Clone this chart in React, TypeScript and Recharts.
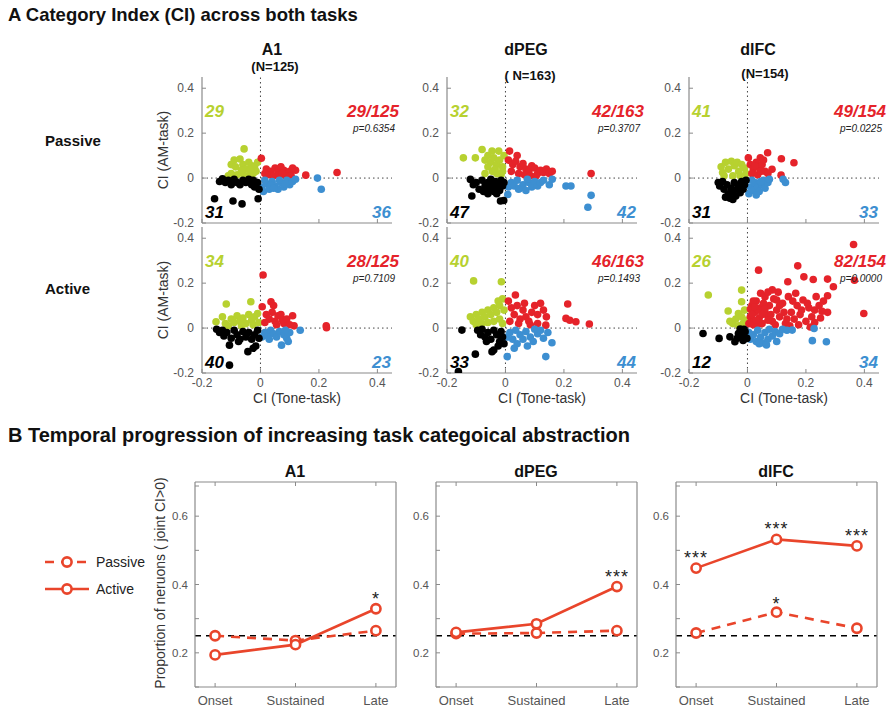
import React from 'react';
import {
  ScatterChart,
  Scatter,
  LineChart,
  Line,
  XAxis,
  YAxis,
  ReferenceLine,
  LabelList,
} from 'recharts';

// ---------- Panel A: CI scatter data, [tone-task CI, AM-task CI] ----------
const a1PassiveGreen = [[-0.056,0.13],[-0.09,0.08],[-0.07,0.085],[-0.1,0.06],[-0.085,0.05],[-0.06,0.06],[-0.05,0.04],[-0.04,0.07],[-0.03,0.055],[-0.02,0.05],[-0.015,0.03],[-0.1,0.02],[-0.08,0.015],[-0.06,0.02],[-0.04,0.01],[-0.025,0.02],[-0.01,0.07],[-0.065,0.035],[-0.11,0.01],[-0.035,0.035]];
const a1PassiveRed = [[0.003,0.088],[0.02,0.04],[0.035,0.03],[0.05,0.045],[0.06,0.03],[0.07,0.05],[0.08,0.035],[0.09,0.02],[0.1,0.03],[0.12,0.035],[0.03,0.015],[0.045,0.01],[0.065,0.015],[0.085,0.01],[0.105,0.01],[0.015,0.02],[0.155,0.013],[0.262,0.025],[0.11,0.045],[0.075,0.02]];
const a1PassiveBlue = [[0.005,-0.04],[0.01,-0.06],[0.02,-0.025],[0.03,-0.05],[0.04,-0.015],[0.05,-0.035],[0.06,-0.05],[0.07,-0.02],[0.08,-0.04],[0.09,-0.01],[0.1,-0.03],[0.11,-0.015],[0.12,-0.005],[0.035,-0.03],[0.065,-0.01],[0.085,-0.025],[0.195,0.0],[0.208,-0.05],[0.015,-0.01],[0.045,-0.045]];
const a1PassiveBlack = [[-0.13,-0.003],[-0.12,-0.02],[-0.11,-0.01],[-0.1,-0.03],[-0.09,-0.005],[-0.08,-0.02],[-0.07,-0.03],[-0.06,-0.01],[-0.05,-0.02],[-0.04,-0.005],[-0.03,-0.03],[-0.02,-0.04],[-0.01,-0.02],[-0.025,-0.01],[-0.157,-0.092],[-0.094,-0.102],[-0.063,-0.115],[-0.008,-0.092],[-0.14,-0.015],[-0.005,-0.05]];

const dpegPassiveGreen = [[-0.144,0.09],[-0.103,0.09],[-0.08,0.127],[-0.046,0.12],[-0.023,0.12],[-0.07,0.08],[-0.06,0.1],[-0.05,0.07],[-0.04,0.09],[-0.03,0.06],[-0.02,0.08],[-0.01,0.05],[-0.06,0.05],[-0.045,0.03],[-0.03,0.02],[-0.015,0.015],[-0.005,0.1],[-0.035,0.04],[-0.07,0.02],[-0.01,0.03]];
const dpegPassiveRed = [[0.014,0.12],[0.04,0.1],[0.01,0.08],[0.025,0.06],[0.035,0.075],[0.05,0.05],[0.06,0.065],[0.07,0.04],[0.08,0.03],[0.09,0.055],[0.1,0.045],[0.11,0.02],[0.12,0.035],[0.13,0.025],[0.14,0.04],[0.15,0.02],[0.16,0.03],[0.045,0.02],[0.065,0.015],[0.02,0.03],[0.293,0.02],[0.085,0.01],[0.105,0.01]];
const dpegPassiveBlue = [[0.008,-0.073],[0.01,-0.04],[0.02,-0.02],[0.03,-0.035],[0.04,-0.01],[0.05,-0.045],[0.06,-0.03],[0.07,-0.055],[0.08,-0.02],[0.09,-0.04],[0.1,-0.015],[0.11,-0.035],[0.12,-0.02],[0.13,-0.01],[0.15,-0.03],[0.16,-0.005],[0.207,-0.035],[0.224,-0.035],[0.293,-0.077],[0.282,-0.13],[0.045,-0.05],[0.075,-0.005]];
const dpegPassiveBlack = [[-0.12,-0.006],[-0.115,-0.08],[-0.11,-0.03],[-0.1,-0.02],[-0.09,-0.05],[-0.08,-0.01],[-0.075,-0.06],[-0.07,-0.035],[-0.06,-0.02],[-0.055,-0.05],[-0.05,-0.005],[-0.045,-0.03],[-0.04,-0.06],[-0.035,-0.015],[-0.03,-0.04],[-0.025,-0.02],[-0.02,-0.055],[-0.015,-0.01],[-0.01,-0.035],[-0.005,-0.02],[-0.017,-0.102],[-0.006,-0.1],[-0.06,-0.07],[-0.03,-0.07]];

const dlfcPassiveGreen = [[-0.09,0.05],[-0.085,0.025],[-0.075,0.07],[-0.065,0.04],[-0.055,0.075],[-0.045,0.055],[-0.035,0.07],[-0.03,0.03],[-0.02,0.06],[-0.01,0.045],[-0.005,0.02],[-0.05,0.01],[-0.08,0.01],[-0.025,0.01]];
const dlfcPassiveRed = [[0.003,0.09],[0.044,0.09],[0.069,0.113],[0.116,0.086],[0.159,0.068],[0.115,0.013],[0.084,0.039],[0.01,0.06],[0.02,0.04],[0.03,0.07],[0.04,0.05],[0.05,0.06],[0.06,0.03],[0.015,0.02],[0.035,0.015],[0.055,0.08],[0.025,0.055],[0.07,0.02],[0.045,0.03]];
const dlfcPassiveBlue = [[0.005,-0.07],[0.01,-0.04],[0.02,-0.055],[0.025,-0.02],[0.035,-0.04],[0.04,-0.06],[0.05,-0.03],[0.055,-0.01],[0.06,-0.045],[0.07,-0.02],[0.075,-0.005],[0.13,-0.02],[0.122,-0.005],[0.015,-0.01],[0.045,-0.015],[0.03,-0.075]];
const dlfcPassiveBlack = [[-0.1,-0.02],[-0.095,-0.035],[-0.085,-0.015],[-0.08,-0.05],[-0.07,-0.03],[-0.065,-0.07],[-0.06,-0.09],[-0.055,-0.045],[-0.05,-0.06],[-0.045,-0.02],[-0.04,-0.08],[-0.035,-0.05],[-0.03,-0.035],[-0.025,-0.065],[-0.02,-0.015],[-0.015,-0.05],[-0.01,-0.03],[-0.005,-0.01],[-0.075,-0.085],[-0.05,-0.095]];

const a1ActiveGreen = [[-0.117,0.107],[-0.033,0.117],[-0.152,0.028],[-0.13,0.05],[-0.12,0.02],[-0.1,0.04],[-0.09,0.025],[-0.08,0.055],[-0.07,0.03],[-0.06,0.045],[-0.05,0.02],[-0.04,0.06],[-0.03,0.035],[-0.02,0.05],[-0.01,0.065],[-0.005,0.025],[-0.11,0.01],[-0.065,0.01],[-0.025,0.015]];
const a1ActiveRed = [[0.009,0.236],[0.006,0.095],[0.036,0.117],[0.045,0.1],[0.02,0.06],[0.03,0.04],[0.04,0.07],[0.05,0.03],[0.06,0.055],[0.07,0.06],[0.075,0.035],[0.08,0.02],[0.09,0.04],[0.11,0.055],[0.115,0.01],[0.015,0.025],[0.225,0.01],[0.226,0.002],[0.055,0.015],[0.1,0.015]];
const a1ActiveBlue = [[0.005,-0.04],[0.015,-0.02],[0.025,-0.035],[0.035,-0.01],[0.045,-0.025],[0.055,-0.04],[0.065,-0.015],[0.072,-0.076],[0.08,-0.03],[0.09,-0.045],[0.095,-0.06],[0.1,-0.02],[0.136,-0.01],[0.03,-0.05],[0.085,-0.01]];
const a1ActiveBlack = [[-0.15,-0.005],[-0.14,-0.02],[-0.13,-0.01],[-0.125,-0.035],[-0.115,-0.02],[-0.106,-0.076],[-0.106,-0.165],[-0.1,-0.045],[-0.09,-0.01],[-0.08,-0.03],[-0.07,-0.05],[-0.06,-0.015],[-0.05,-0.04],[-0.043,-0.105],[-0.04,-0.02],[-0.03,-0.05],[-0.025,-0.09],[-0.02,-0.03],[-0.016,-0.08],[-0.01,-0.01],[-0.005,-0.045],[-0.075,-0.06]];

const dpegActiveGreen = [[-0.109,0.21],[-0.014,0.206],[-0.12,0.05],[-0.11,0.03],[-0.1,0.06],[-0.09,0.04],[-0.08,0.07],[-0.07,0.05],[-0.06,0.08],[-0.05,0.06],[-0.04,0.09],[-0.03,0.07],[-0.02,0.1],[-0.01,0.13],[-0.005,0.08],[-0.1,0.015],[-0.08,0.02],[-0.06,0.025],[-0.04,0.03],[-0.02,0.04],[-0.01,0.02],[-0.025,0.12]];
const dpegActiveRed = [[0.034,0.147],[0.01,0.12],[0.02,0.09],[0.03,0.06],[0.04,0.1],[0.05,0.04],[0.06,0.08],[0.07,0.05],[0.08,0.03],[0.09,0.07],[0.1,0.1],[0.11,0.06],[0.12,0.11],[0.13,0.08],[0.14,0.05],[0.015,0.03],[0.045,0.02],[0.085,0.015],[0.138,0.013],[0.213,0.107],[0.207,0.043],[0.22,0.035],[0.241,0.028],[0.287,0.018],[0.065,0.11],[0.11,0.02]];
const dpegActiveBlue = [[0.006,-0.127],[0.005,-0.04],[0.015,-0.02],[0.025,-0.05],[0.035,-0.01],[0.04,-0.07],[0.05,-0.03],[0.06,-0.05],[0.07,-0.015],[0.075,-0.08],[0.085,-0.04],[0.095,-0.06],[0.11,-0.025],[0.12,-0.01],[0.13,-0.045],[0.138,-0.127],[0.145,-0.02],[0.159,-0.065],[0.03,-0.09],[0.1,-0.005]];
const dpegActiveBlack = [[-0.149,-0.009],[-0.103,-0.116],[-0.046,-0.105],[-0.04,-0.098],[-0.161,-0.194],[-0.095,-0.01],[-0.085,-0.03],[-0.08,-0.005],[-0.07,-0.04],[-0.06,-0.02],[-0.05,-0.05],[-0.04,-0.01],[-0.03,-0.03],[-0.02,-0.06],[-0.015,-0.015],[-0.01,-0.04],[-0.005,-0.07],[-0.065,-0.06],[-0.025,-0.08]];

const dlfcActiveGreen = [[-0.134,0.147],[-0.02,0.169],[-0.02,0.117],[-0.066,0.076],[-0.031,0.065],[-0.06,0.03],[-0.05,0.02],[-0.04,0.04],[-0.03,0.01],[-0.02,0.05],[-0.01,0.08],[-0.005,0.035],[-0.015,0.02]];
const dlfcActiveRed = [[0.038,0.258],[0.172,0.277],[0.193,0.228],[0.138,0.206],[0.225,0.216],[0.274,0.218],[0.294,0.184],[0.363,0.372],[0.366,0.213],[0.398,0.065],[0.274,0.144],[0.274,0.07],[0.01,0.05],[0.015,0.1],[0.02,0.03],[0.025,0.07],[0.03,0.12],[0.04,0.045],[0.045,0.09],[0.05,0.02],[0.06,0.14],[0.065,0.06],[0.075,0.1],[0.085,0.03],[0.09,0.13],[0.1,0.08],[0.11,0.05],[0.12,0.11],[0.13,0.02],[0.14,0.14],[0.15,0.07],[0.16,0.04],[0.17,0.1],[0.18,0.06],[0.19,0.125],[0.2,0.03],[0.21,0.09],[0.22,0.05],[0.23,0.08],[0.245,0.1],[0.25,0.045],[0.26,0.12],[0.005,0.02],[0.035,0.015],[0.055,0.11],[0.095,0.015],[0.105,0.16],[0.145,0.01],[0.175,0.015],[0.215,0.005],[0.035,0.08],[0.08,0.06],[0.125,0.07],[0.165,0.155],[0.205,0.11],[0.235,0.14],[0.01,0.085],[0.02,0.12],[0.015,0.06],[0.06,0.085],[0.07,0.035],[0.02,0.015],[0.11,0.1],[0.155,0.12],[0.185,0.08],[0.23,0.025],[0.045,0.155],[0.085,0.17],[0.255,0.075],[0.1,0.125],[0.135,0.04],[0.03,0.035],[0.05,0.06],[0.07,0.16],[0.025,0.095]];
const dlfcActiveBlue = [[0.005,-0.02],[0.01,-0.05],[0.02,-0.03],[0.03,-0.06],[0.035,-0.01],[0.045,-0.04],[0.05,-0.065],[0.06,-0.02],[0.07,-0.05],[0.075,-0.005],[0.085,-0.035],[0.095,-0.015],[0.1,-0.06],[0.11,-0.025],[0.12,-0.005],[0.135,-0.01],[0.153,-0.009],[0.228,-0.002],[0.222,-0.056],[0.27,-0.061],[0.04,-0.07],[0.065,-0.075]];
const dlfcActiveBlack = [[-0.152,-0.024],[-0.097,-0.046],[-0.06,-0.039],[-0.043,-0.061],[-0.025,-0.004],[-0.02,-0.031],[-0.031,-0.024],[-0.008,-0.016],[-0.002,-0.046],[-0.012,-0.005],[-0.035,-0.045],[-0.015,-0.055]];

// quadrant counts and joint-positive fractions
const ciTicks = [-0.2, 0, 0.2, 0.4];
const passiveCounts = [
  { green: '29', red: '29/125', p: 'p=0.6354', black: '31', blue: '36' },
  { green: '32', red: '42/163', p: 'p=0.3707', black: '47', blue: '42' },
  { green: '41', red: '49/154', p: 'p=0.0225', black: '31', blue: '33' },
];
const activeCounts = [
  { green: '34', red: '28/125', p: 'p=0.7109', black: '40', blue: '23' },
  { green: '40', red: '46/163', p: 'p=0.1493', black: '33', blue: '44' },
  { green: '26', red: '82/154', p: 'p=0.0000', black: '12', blue: '34' },
];

// ---------- Panel B: proportion with joint CI > 0 ----------
const stages = ['Onset', 'Sustained', 'Late'];
const a1Passive = [0.25, 0.236, 0.265];
const a1Active = [0.194, 0.224, 0.329];
const dpegPassive = [0.256, 0.258, 0.265];
const dpegActive = [0.26, 0.285, 0.394];
const dlfcPassive = [0.258, 0.319, 0.272];
const dlfcActive = [0.448, 0.532, 0.513];
const a1ActiveSig = ['', '', '*'];
const dpegActiveSig = ['', '', '***'];
const dlfcActiveSig = ['***', '***', '***'];
const dlfcPassiveSig = ['', '*', ''];
const noSig = ['', '', ''];
const chance = 0.25;
const propTicks = [0.1, 0.2, 0.3, 0.4, 0.5, 0.6, 0.7];

const FONT = "'Liberation Sans', Arial, Helvetica, sans-serif";
const GREEN = '#b7d130';
const RED = '#e5232a';
const BLUE = '#3d8fd1';
const LINE_RED = '#e9452b';
const AXIS = '#8a8a8a';
const TICK_TXT = '#555';

const toPts = (arr: number[][]) => arr.map(([x, y]) => ({ x, y }));

const T = ({ x, y, anchor = 'start', style, children }: any) => {
  const tx = anchor === 'middle' ? '-50%' : anchor === 'end' ? '-100%' : '0';
  return (
    <div
      style={{
        position: 'absolute',
        left: x,
        top: y,
        transform: `translate(${tx}, -50%)`,
        whiteSpace: 'nowrap',
        lineHeight: 1,
        ...style,
      }}
    >
      {children}
    </div>
  );
};

const fmtCI = (v: number) => (v === 0 ? '0' : v.toFixed(1));

// inward-tick axis renderers (MATLAB style)
const leftTick = (tm: number, labels: boolean, fmt: (v: number) => string, fs = 12, show?: (v: number) => boolean) =>
  (p: any) => (
    <g>
      <line x1={p.x + tm} x2={p.x + tm + 4} y1={p.y} y2={p.y} stroke={AXIS} />
      {labels && (!show || show(p.payload.value)) && (
        <text x={p.x} y={p.y} dy={4} textAnchor="end" fontSize={fs} fill={TICK_TXT} fontFamily={FONT}>
          {fmt(p.payload.value)}
        </text>
      )}
    </g>
  );
const rightTick = (tm: number) => (p: any) => (
  <line x1={p.x - tm} x2={p.x - tm - 4} y1={p.y} y2={p.y} stroke={AXIS} />
);
const bottomTick = (tm: number, labels: boolean, fmt: (v: number) => string, fs = 12) => (p: any) => (
  <g>
    <line x1={p.x} x2={p.x} y1={p.y - tm} y2={p.y - tm - 4} stroke={AXIS} />
    {labels && (
      <text x={p.x} y={p.y} dy="0.75em" textAnchor="middle" fontSize={fs} fill={TICK_TXT} fontFamily={FONT}>
        {fmt(p.payload.value)}
      </text>
    )}
  </g>
);
const topTick = (tm: number) => (p: any) => (
  <line x1={p.x} x2={p.x} y1={p.y + tm} y2={p.y + tm + 4} stroke={AXIS} />
);

const dot = (color: string) => (p: any) => <circle cx={p.cx} cy={p.cy} r={3.8} fill={color} />;

const CIPanel = ({ left, top, green, red, blue, black, xLabels }: any) => (
  <div style={{ position: 'absolute', left: left - 40, top: top - 4 }}>
    <ScatterChart width={234} height={170} margin={{ top: 4, right: 4, left: 0, bottom: 0 }}>
      <XAxis
        type="number"
        dataKey="x"
        domain={[-0.2, 0.45]}
        ticks={ciTicks}
        allowDataOverflow
        height={20}
        stroke={AXIS}
        strokeWidth={1.2}
        tickLine={false}
        tickSize={0}
        tickMargin={5}
        tick={bottomTick(5, xLabels, fmtCI)}
      />
      <YAxis
        type="number"
        dataKey="y"
        domain={[-0.2, 0.45]}
        ticks={ciTicks}
        allowDataOverflow
        width={40}
        stroke={AXIS}
        strokeWidth={1.2}
        tickLine={false}
        tickSize={0}
        tickMargin={8}
        tick={leftTick(8, true, fmtCI)}
      />
      <ReferenceLine x={0} stroke="#444" strokeDasharray="1.5 3" />
      <ReferenceLine y={0} stroke="#444" strokeDasharray="1.5 3" />
      <Scatter data={toPts(green)} shape={dot(GREEN)} isAnimationActive={false} />
      <Scatter data={toPts(red)} shape={dot(RED)} isAnimationActive={false} />
      <Scatter data={toPts(blue)} shape={dot(BLUE)} isAnimationActive={false} />
      <Scatter data={toPts(black)} shape={dot('#000')} isAnimationActive={false} />
    </ScatterChart>
  </div>
);

const CILabels = ({ left, right, top, bottom, c }: any) => {
  const big = { fontSize: 17, fontWeight: 'bold', fontStyle: 'italic' } as const;
  return (
    <>
      <T x={left + 3} y={top + 34} style={{ ...big, color: GREEN }}>{c.green}</T>
      <T x={right + 7} y={top + 34} anchor="end" style={{ ...big, color: RED }}>{c.red}</T>
      <T x={right + 3} y={top + 52} anchor="end" style={{ fontSize: 10, fontStyle: 'italic', color: '#222' }}>{c.p}</T>
      <T x={left + 3} y={bottom - 11} style={{ ...big, color: '#000' }}>{c.black}</T>
      <T x={right - 1} y={bottom - 11} anchor="end" style={{ ...big, color: BLUE }}>{c.blue}</T>
    </>
  );
};

const lineDot = (p: any) => (
  <circle key={p.index} cx={p.cx} cy={p.cy} r={4.6} fill="#fff" stroke={LINE_RED} strokeWidth={2.6} />
);

const PropPanel = ({ left, top, passive, active, passiveSig, activeSig }: any) => {
  const data = stages.map((s, i) => ({
    x: i,
    passive: passive[i],
    active: active[i],
    pSig: passiveSig[i],
    aSig: activeSig[i],
  }));
  return (
    <div style={{ position: 'absolute', left: left - 40, top: top - 5 }}>
      <LineChart width={246} height={235} data={data} margin={{ top: 4, right: 4, left: 0, bottom: 0 }}>
        <XAxis
          type="number"
          dataKey="x"
          domain={[-0.25, 2.25]}
          ticks={[0, 1, 2]}
          height={25}
          stroke={AXIS}
          strokeWidth={1.2}
          tickLine={false}
          tickSize={0}
          tickMargin={8}
          tick={bottomTick(8, true, (v) => stages[v], 13)}
        />
        <XAxis
          xAxisId="top"
          orientation="top"
          type="number"
          dataKey="x"
          domain={[-0.25, 2.25]}
          ticks={[0, 1, 2]}
          height={1}
          stroke={AXIS}
          strokeWidth={1.2}
          tickLine={false}
          tickSize={0}
          tickMargin={0}
          tick={topTick(0)}
        />
        <YAxis
          type="number"
          domain={[0.1, 0.7]}
          ticks={propTicks}
          width={40}
          stroke={AXIS}
          strokeWidth={1.2}
          tickLine={false}
          tickSize={0}
          tickMargin={7}
          tick={leftTick(7, true, (v) => v.toFixed(1), 11.5, (v) => [0.2, 0.4, 0.6].some((t) => Math.abs(t - v) < 1e-6))}
        />
        <YAxis
          yAxisId="right"
          orientation="right"
          type="number"
          domain={[0.1, 0.7]}
          ticks={propTicks}
          width={1}
          stroke={AXIS}
          strokeWidth={1.2}
          tickLine={false}
          tickSize={0}
          tickMargin={0}
          tick={rightTick(0)}
        />
        <ReferenceLine y={chance} stroke="#000" strokeWidth={1.6} strokeDasharray="6 5" />
        <Line
          dataKey="passive"
          stroke={LINE_RED}
          strokeWidth={2.6}
          strokeDasharray="9 7"
          dot={lineDot}
          isAnimationActive={false}
        >
          <LabelList dataKey="pSig" position="top" offset={2} fill="#222" fontSize={18} fontFamily={FONT} letterSpacing={1} />
        </Line>
        <Line dataKey="active" stroke={LINE_RED} strokeWidth={2.6} dot={lineDot} isAnimationActive={false}>
          <LabelList dataKey="aSig" position="top" offset={4} fill="#222" fontSize={18} fontFamily={FONT} letterSpacing={1} />
        </Line>
      </LineChart>
    </div>
  );
};

const cols = [
  { l: 202, r: 392 },
  { l: 447, r: 637 },
  { l: 689, r: 879 },
];
const passiveTop = 77;
const activeTop = 227;
const ciH = 146;

const propCols = [195, 436, 676];
const propTop = 482;

export default function App() {
  const head = { fontSize: 16, fontWeight: 'bold', color: '#111' } as const;
  const sub = { fontSize: 13, fontWeight: 'bold', color: '#111' } as const;
  const axisLbl = { fontSize: 14, color: '#333' } as const;
  return (
    <div
      style={{
        position: 'absolute',
        left: 0,
        top: 0,
        width: 890,
        height: 711,
        background: '#fff',
        fontFamily: FONT,
        overflow: 'hidden',
      }}
    >
      <T x={8} y={15} style={{ fontSize: 18.5, fontWeight: 'bold', color: '#111' }}>
        A Category Index (CI) across both tasks
      </T>
      <T x={272} y={50} anchor="middle" style={head}>A1</T>
      <T x={275} y={66} anchor="middle" style={sub}>(N=125)</T>
      <T x={526} y={50} anchor="middle" style={head}>dPEG</T>
      <T x={530} y={75} anchor="middle" style={sub}>( N=163)</T>
      <T x={758} y={50} anchor="middle" style={head}>dlFC</T>
      <T x={765} y={73} anchor="middle" style={sub}>(N=154)</T>

      <T x={45} y={140} style={{ fontSize: 15, fontWeight: 'bold', color: '#111' }}>Passive</T>
      <T x={45} y={288} style={{ fontSize: 15, fontWeight: 'bold', color: '#111' }}>Active</T>

      <CIPanel left={cols[0].l} top={passiveTop} green={a1PassiveGreen} red={a1PassiveRed} blue={a1PassiveBlue} black={a1PassiveBlack} xLabels={false} />
      <CIPanel left={cols[1].l} top={passiveTop} green={dpegPassiveGreen} red={dpegPassiveRed} blue={dpegPassiveBlue} black={dpegPassiveBlack} xLabels={false} />
      <CIPanel left={cols[2].l} top={passiveTop} green={dlfcPassiveGreen} red={dlfcPassiveRed} blue={dlfcPassiveBlue} black={dlfcPassiveBlack} xLabels={false} />
      <CIPanel left={cols[0].l} top={activeTop} green={a1ActiveGreen} red={a1ActiveRed} blue={a1ActiveBlue} black={a1ActiveBlack} xLabels />
      <CIPanel left={cols[1].l} top={activeTop} green={dpegActiveGreen} red={dpegActiveRed} blue={dpegActiveBlue} black={dpegActiveBlack} xLabels />
      <CIPanel left={cols[2].l} top={activeTop} green={dlfcActiveGreen} red={dlfcActiveRed} blue={dlfcActiveBlue} black={dlfcActiveBlack} xLabels />

      {cols.map((c, i) => (
        <React.Fragment key={i}>
          <CILabels left={c.l} right={c.r} top={passiveTop} bottom={passiveTop + ciH} c={passiveCounts[i]} />
          <CILabels left={c.l} right={c.r} top={activeTop} bottom={activeTop + ciH} c={activeCounts[i]} />
          <T x={(c.l + c.r) / 2} y={398} anchor="middle" style={axisLbl}>CI (Tone-task)</T>
        </React.Fragment>
      ))}
      <T x={163} y={150} anchor="middle" style={{ ...axisLbl, transform: 'translate(-50%, -50%) rotate(-90deg)' }}>
        CI (AM-task)
      </T>
      <T x={163} y={300} anchor="middle" style={{ ...axisLbl, transform: 'translate(-50%, -50%) rotate(-90deg)' }}>
        CI (AM-task)
      </T>

      <T x={8} y={435} style={{ fontSize: 20, fontWeight: 'bold', color: '#111' }}>
        B Temporal progression of increasing task categoical abstraction
      </T>
      <T x={295} y={472} anchor="middle" style={head}>A1</T>
      <T x={536} y={472} anchor="middle" style={head}>dPEG</T>
      <T x={776} y={472} anchor="middle" style={head}>dlFC</T>

      <PropPanel left={propCols[0]} top={propTop} passive={a1Passive} active={a1Active} passiveSig={noSig} activeSig={a1ActiveSig} />
      <PropPanel left={propCols[1]} top={propTop} passive={dpegPassive} active={dpegActive} passiveSig={noSig} activeSig={dpegActiveSig} />
      <PropPanel left={propCols[2]} top={propTop} passive={dlfcPassive} active={dlfcActive} passiveSig={dlfcPassiveSig} activeSig={dlfcActiveSig} />

      <T x={160} y={583} anchor="middle" style={{ ...axisLbl, transform: 'translate(-50%, -50%) rotate(-90deg)' }}>
        Proportion of neruons ( joint CI&gt;0)
      </T>

      <svg style={{ position: 'absolute', left: 0, top: 540 }} width={100} height={70}>
        <line x1={45} x2={89} y1={22} y2={22} stroke={LINE_RED} strokeWidth={2.6} strokeDasharray="9 7" />
        <circle cx={67} cy={22} r={4.6} fill="#fff" stroke={LINE_RED} strokeWidth={2.6} />
        <line x1={45} x2={89} y1={49} y2={49} stroke={LINE_RED} strokeWidth={2.6} />
        <circle cx={67} cy={49} r={4.6} fill="#fff" stroke={LINE_RED} strokeWidth={2.6} />
      </svg>
      <T x={96} y={562} style={{ fontSize: 14, color: '#222' }}>Passive</T>
      <T x={96} y={589} style={{ fontSize: 14, color: '#222' }}>Active</T>
    </div>
  );
}
